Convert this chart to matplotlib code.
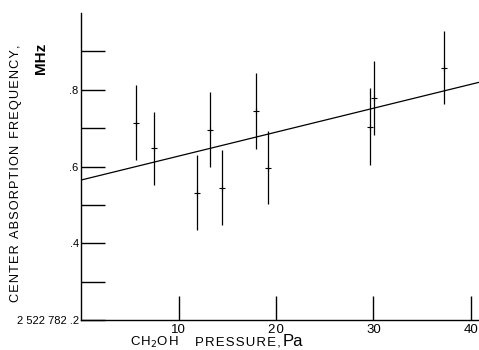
import numpy as np
import matplotlib.pyplot as plt

plt.rcParams['font.family'] = ['Liberation Sans', 'DejaVu Sans']

# CH3OH pressure (Pa) vs center absorption frequency offset (MHz)
pressure = [5.6, 7.5, 11.9, 13.2, 14.4, 17.9, 19.2, 29.6, 30.1, 37.3]
freq = [0.714, 0.647, 0.532, 0.696, 0.545, 0.745, 0.597, 0.704, 0.779, 0.857]
err = [0.098, 0.095, 0.098, 0.098, 0.098, 0.100, 0.095, 0.100, 0.097, 0.095]

fit_intercept = 0.565
fit_slope = 0.00623

sp = '\u200a'  # hair space for the letter-spaced typewriter look

xticks = [10, 20, 30, 40]
xticklabels = ['10', '2' + sp + '0', '30', '40']
yticks = [0.2, 0.3, 0.4, 0.5, 0.6, 0.7, 0.8, 0.9]
yticklabels = ['2 522 782 .2', '', '.4', '', '.6', '', '.8', '']

fig = plt.figure(figsize=(4.79, 3.5), dpi=100)
ax = fig.add_axes([0.170, 0.0857, 0.83, 0.877])

ax.errorbar(pressure, freq, yerr=err, fmt='+', color='black', ms=4,
            mew=0.8, elinewidth=0.9, capsize=0)

xx = np.array([0, 40.85])
ax.plot(xx, fit_intercept + fit_slope * xx, color='black', lw=0.9)

ax.set_xlim(0, 40.85)
ax.set_ylim(0.2, 1.0)
ax.spines['top'].set_visible(False)
ax.spines['right'].set_visible(False)
ax.spines['left'].set_linewidth(1.0)
ax.spines['bottom'].set_linewidth(1.0)

ax.set_xticks(xticks)
ax.set_xticklabels(xticklabels, fontsize=9.5)
ax.set_yticks(yticks)
ax.set_yticklabels(yticklabels, fontsize=8)
ax.tick_params(axis='both', direction='in', length=17, width=1.0)
ax.tick_params(axis='x', pad=3)
ax.tick_params(axis='y', pad=2)

ylab = sp.join('CENTER') + '  ' + sp.join('ABSORPTION') + '  ' + sp.join('FREQUENCY,')
fig.text(0.034, 0.505, ylab, rotation=90, ha='center', va='center', fontsize=9.2)
fig.text(0.085, 0.833, 'MHz', rotation=90, ha='center', va='center',
         fontsize=11, fontweight='bold')

fig.text(0.271, 0.021, sp.join('CH') + '$_2$' + sp.join('OH'), ha='left',
         va='center', fontsize=9.5)
fig.text(0.407, 0.021, sp.join('PRESSURE,'), ha='left', va='center', fontsize=9.5)
fig.text(0.59, 0.024, 'Pa', ha='left', va='center', fontsize=12)

fig.savefig('out.png', dpi=100)
